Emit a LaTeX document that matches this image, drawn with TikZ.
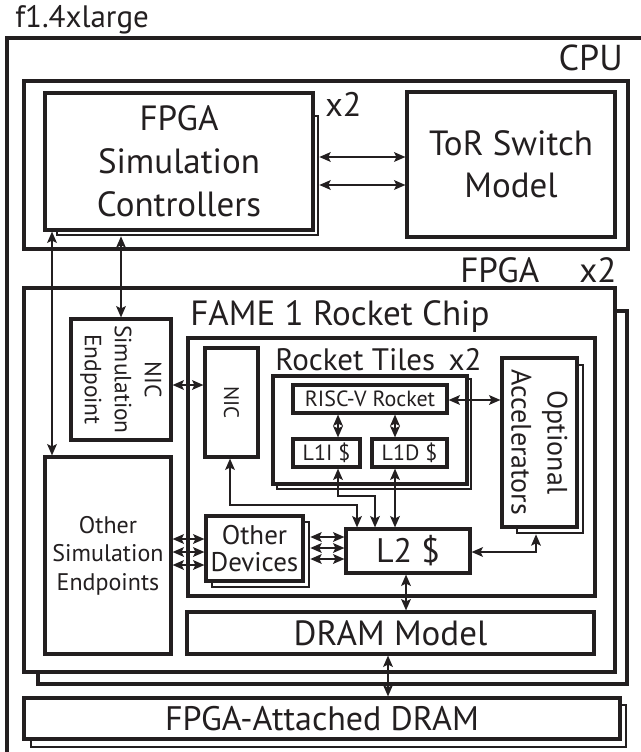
\documentclass[tikz,border=0pt]{standalone}
\usepackage{fontspec}
\setmainfont{PT Sans}
\usetikzlibrary{arrows.meta,fit}
\definecolor{ink}{RGB}{35,31,32}
\begin{document}
\begin{tikzpicture}[x=0.75pt,y=-0.75pt,
  every node/.style={text=ink},
  box/.style={draw=ink, line width=2.3pt, fill=white, inner sep=0pt},
  shbox/.style={draw=ink, line width=1.9pt, fill=white, inner sep=0pt},
  conn/.style={draw=ink, line width=1.9pt,
    {Stealth[length=8.5pt,width=7.2pt,inset=1.8pt]}-{Stealth[length=8.5pt,width=7.2pt,inset=1.8pt]}},
  lbl/.style={inner sep=0pt, anchor=base west},
  txt/.style={inner sep=0pt, align=center},
  rtext/.style={rotate=-90, align=center, inner sep=0pt}
]
\useasboundingbox (0,0) rectangle (640,752);

% outer CPU frame (clipped by page)
\draw[ink, line width=2.4pt] (650,38) -- (7,38) -- (7,760);
\node[lbl, font=\fontsize{23.25}{28}\selectfont] (machine) at (15,28) {f1.4xlarge};
\node[inner sep=0pt, anchor=base east, font=\fontsize{27}{32}\selectfont] (cpulbl) at (623,71) {CPU};

% CPU inner box
\node[box, fit={(24,81) (628,249)}] (cpuin) {};
\node[shbox, fit={(57,116) (318,235)}] (ctrlsh) {};
\node[box, fit={(45,93) (313,230)}] (ctrl) {};
\node[txt, font=\fontsize{26.25}{32.25}\selectfont] (ctrlt) at (ctrl.center) {FPGA\\Simulation\\Controllers};
\node[lbl, font=\fontsize{25.5}{30}\selectfont] (ctrlx) at (325,117) {x2};
\node[box, fit={(407,92) (615,237)}] (tor) {};
\node[txt, font=\fontsize{26.25}{31.5}\selectfont] (tort) at (tor.center) {ToR Switch\\Model};

% FPGA
\node[lbl, font=\fontsize{26.25}{30}\selectfont] (fpgalbl) at (460,282) {FPGA};
\node[lbl, font=\fontsize{26.25}{30}\selectfont] (fpgax) at (579,282) {x2};
\node[shbox, line width=2.3pt, fit={(38,311) (627,684)}] (fpgash) {};
\node[box, fit={(24,288) (615,672)}] (fpga) {};

\node[lbl, font=\fontsize{26.25}{30}\selectfont] (famelbl) at (190,325) {FAME 1 Rocket Chip};
\node[box, fit={(188,338) (595,596)}] (fame) {};

\node[box, fit={(71,319) (171,440)}] (nicsim) {};
\node[rtext, font=\fontsize{17.6}{22.5}\selectfont] (nicsimt) at (nicsim.center) {NIC\\Simulation\\Endpoint};
\node[box, fit={(45,457) (171,654)}] (othsim) {};
\node[txt, font=\fontsize{18}{21.4}\selectfont] (othsimt) at (othsim.center) {Other\\Simulation\\Endpoints};

\node[box, fit={(205,348) (258,457)}] (nic) {};
\node[rtext, font=\fontsize{15.75}{18}\selectfont] (nict) at (nic.center) {NIC};

\node[lbl, font=\fontsize{23.25}{28}\selectfont] (tileslbl) at (275,370) {Rocket Tiles\, x2};
\node[shbox, fit={(277,379) (471,489)}] (tilessh) {};
\node[box, fit={(273,376) (467,484)}] (tiles) {};
\node[box, fit={(293,385) (447,413)}] (riscv) {};
\node[txt, font=\fontsize{16.5}{20}\selectfont] (riscvt) at (riscv.center) {RISC-V Rocket};
\node[box, fit={(293,439) (360,467)}] (l1i) {};
\node[txt, font=\fontsize{16.5}{20}\selectfont] (l1it) at (l1i.center) {L1I \$};
\node[box, fit={(372,439) (447,467)}] (l1d) {};
\node[txt, font=\fontsize{16.5}{20}\selectfont] (l1dt) at (l1d.center) {L1D \$};

\node[shbox, fit={(517,365) (583,533)}] (accsh) {};
\node[box, fit={(502,358) (577,527)}] (acc) {};
\node[rtext, font=\fontsize{21}{27}\selectfont] (acct) at (acc.center) {Optional\\Accelerators};

\node[shbox, fit={(212,522) (309,587)}] (othdevsh) {};
\node[box, fit={(206,516) (303,581)}] (othdev) {};
\node[txt, font=\fontsize{20.25}{20.25}\selectfont] (othdevt) at (othdev.center) {Other\\Devices};
\node[box, fit={(346,529) (470,573)}] (l2) {};
\node[txt, font=\fontsize{25.5}{30}\selectfont] (l2t) at (l2.center) {L2 \$};

\node[box, fit={(187,612) (594,654)}] (dram) {};
\node[txt, font=\fontsize{26.25}{30}\selectfont] (dramt) at (dram.center) {DRAM Model};

\node[shbox, fit={(31,705) (626,747)}] (fdramsh) {};
\node[box, fit={(24,698) (620,739)}] (fdram) {};
\node[txt, font=\fontsize{25.5}{30}\selectfont] (fdramt) at (fdram.center) {FPGA-Attached DRAM};

% helper coordinates
\coordinate (ya) at (0,157);
\coordinate (yb) at (0,185);
\coordinate (xa) at (52,0);
\coordinate (xb) at (121,0);
\coordinate (yc) at (0,385);
\coordinate (xi) at (338,0);
\coordinate (xd) at (395,0);
\coordinate (yr) at (0,400);
\coordinate (xn) at (230,0);
\coordinate (yn) at (0,505);
\coordinate (xn2) at (357,0);
\coordinate (yi) at (0,496);
\coordinate (xi2) at (375,0);
\coordinate (y1) at (0,539);
\coordinate (y2) at (0,552);
\coordinate (y3) at (0,565);
\coordinate (z1) at (0,537);
\coordinate (z2) at (0,548);
\coordinate (z3) at (0,559);
\coordinate (yl) at (0,552);
\coordinate (xacc) at (536,0);
\coordinate (xl2) at (406,0);
\coordinate (xdr) at (388,0);

% connectors
\draw[conn] (ctrlsh.east |- ya) -- (tor.west |- ya);
\draw[conn] (ctrlsh.east |- yb) -- (tor.west |- yb);
\draw[conn] (xa |- ctrl.south) -- (xa |- othsim.north);
\draw[conn] (xb |- ctrlsh.south) -- (xb |- nicsim.north);
\draw[conn] (nicsim.east |- yc) -- (nic.west |- yc);
\draw[conn] (xi |- riscv.south) -- (xi |- l1i.north);
\draw[conn] (xd |- riscv.south) -- (xd |- l1d.north);
\draw[conn] (riscv.east |- yr) -- (acc.west |- yr);
\draw[conn] (xn |- nic.south) -- (xn |- yn) -| (xn2 |- l2.north);
\draw[conn] (xi |- l1i.south) -- (xi |- yi) -| (xi2 |- l2.north);
\draw[conn] (xd |- l1d.south) -- (xd |- l2.north);
\draw[conn] (othsim.east |- y1) -- (othdev.west |- y1);
\draw[conn] (othsim.east |- y2) -- (othdev.west |- y2);
\draw[conn] (othsim.east |- y3) -- (othdev.west |- y3);
\draw[conn] (othdevsh.east |- z1) -- (l2.west |- z1);
\draw[conn] (othdevsh.east |- z2) -- (l2.west |- z2);
\draw[conn] (othdevsh.east |- z3) -- (l2.west |- z3);
\draw[conn] (l2.east |- yl) -| (xacc |- accsh.south);
\draw[conn] (xl2 |- l2.south) -- (xl2 |- dram.north);
\draw[conn] (xdr |- dram.south) -- (xdr |- fdram.north);
\end{tikzpicture}
\end{document}
